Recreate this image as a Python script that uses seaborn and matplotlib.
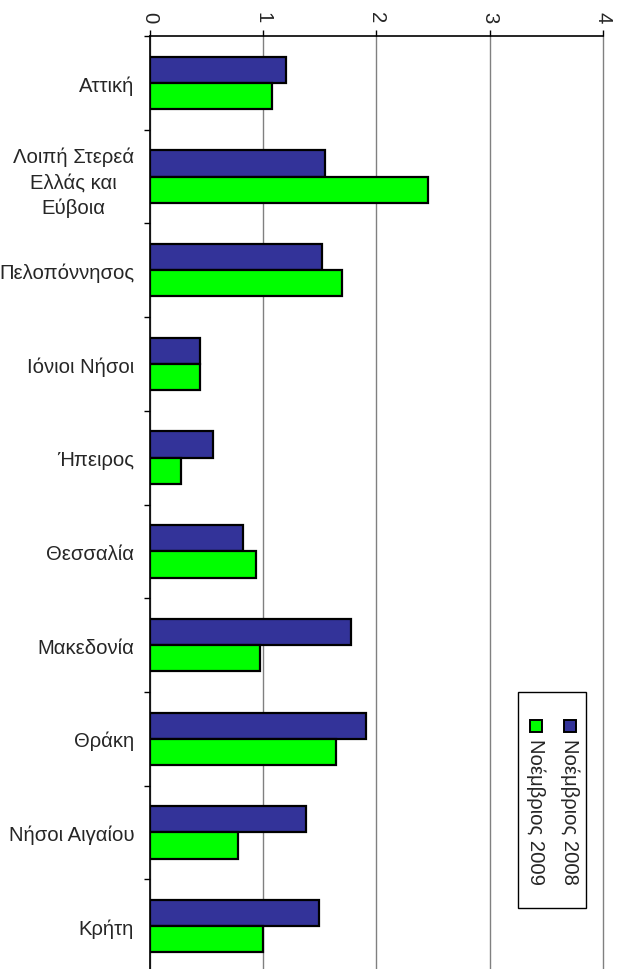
import matplotlib
matplotlib.use("Agg")
import matplotlib.pyplot as plt
import seaborn as sns
import pandas as pd
from matplotlib.patches import Rectangle
from matplotlib.ticker import FixedLocator

regions = ["Αττική", "Λοιπή Στερεά\nΕλλάς και\nΕύβοια", "Πελοπόννησος", "Ιόνιοι Νήσοι",
           "Ήπειρος", "Θεσσαλία", "Μακεδονία", "Θράκη", "Νήσοι Αιγαίου", "Κρήτη"]
series = ["Νοέμβριος 2008", "Νοέμβριος 2009"]
nov2008 = [1.20, 1.55, 1.52, 0.44, 0.56, 0.82, 1.78, 1.91, 1.38, 1.49]
nov2009 = [1.08, 2.46, 1.70, 0.44, 0.28, 0.94, 0.97, 1.64, 0.78, 1.00]
xticks = [0, 1, 2, 3, 4]
colors = ["#333399", "#00FF00"]

df = pd.DataFrame({
    "region": regions * 2,
    "value": nov2008 + nov2009,
    "series": [series[0]] * len(regions) + [series[1]] * len(regions),
})

sns.set_style("white")
plt.rcParams["font.family"] = ["Liberation Sans", "DejaVu Sans"]
FS = 14.6

fig = plt.figure(figsize=(6.21, 9.70), dpi=100)
ax = fig.add_axes([149.7 / 621, -4 / 970, (603 - 149.7) / 621, (974 - 37) / 970])

sns.barplot(data=df, y="region", x="value", hue="series", order=regions, hue_order=series,
            palette=colors, saturation=1, orient="h", width=0.56, edgecolor="black",
            linewidth=1.6, legend=False, ax=ax, zorder=3)

ax.set_xlim(0, 4)
ax.set_ylim(len(regions) - 0.5, -0.5)
ax.set_xlabel("")
ax.set_ylabel("")

ax.xaxis.tick_top()
ax.set_xticks(xticks)
ax.set_xticklabels([str(t) for t in xticks])
ax.tick_params(axis="x", which="major", direction="out", length=4, width=1, color="black",
               pad=6, labelsize=FS, labelrotation=270, top=True, bottom=False)
ax.grid(axis="x", color="#808080", linewidth=1, zorder=0)
ax.grid(axis="y", visible=False)
for gl in ax.get_xgridlines():
    gl.set_clip_on(False)

ax.yaxis.set_minor_locator(FixedLocator([i + 0.5 for i in range(-1, len(regions))]))
ax.tick_params(axis="y", which="major", length=0, pad=11.2, labelsize=FS)
ax.tick_params(axis="y", which="minor", direction="out", length=4.5, width=1, color="black", left=True)
for lbl in ax.get_yticklabels():
    lbl.set_multialignment("center")
    lbl.set_linespacing(1.42)

for s in ["right", "bottom"]:
    ax.spines[s].set_visible(False)
for s in ["left", "top"]:
    ax.spines[s].set_visible(True)
    ax.spines[s].set_color("black")
    ax.spines[s].set_linewidth(1.2)

# Rotated legend (drawn in figure pixel coordinates)
W, H = 621, 970
def fx(px):
    return px / W
def fy(py):
    return 1 - py / H

fig.patches.append(Rectangle((fx(517.5), fy(909)), (586 - 517.5) / W, (909 - 693) / H,
                             transform=fig.transFigure, facecolor="white",
                             edgecolor="black", linewidth=1.0, zorder=5))
for cx, col, name in [(569.5, colors[0], series[0]), (535.5, colors[1], series[1])]:
    fig.patches.append(Rectangle((fx(cx - 6), fy(733)), 12 / W, 12 / H,
                                 transform=fig.transFigure, facecolor=col,
                                 edgecolor="black", linewidth=1.4, zorder=6))
    fig.text(fx(cx), fy(739), name, rotation=270, ha="center", va="top",
             fontsize=FS, zorder=7)

fig.savefig("out.png", dpi=100)
